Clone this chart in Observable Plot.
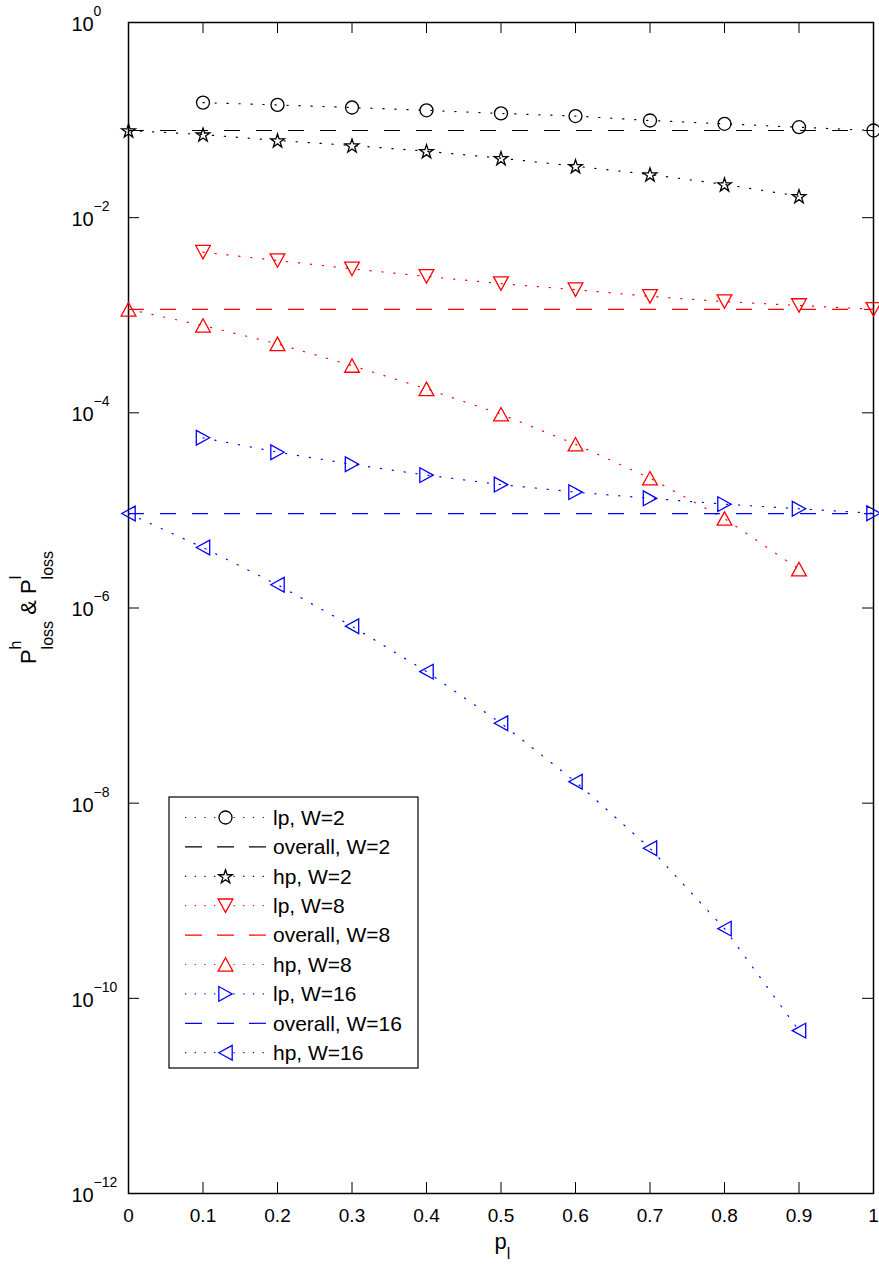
<!DOCTYPE html>
<html><head><meta charset="utf-8">
<script src="https://cdn.jsdelivr.net/npm/d3@7"></script>
<script src="https://cdn.jsdelivr.net/npm/@observablehq/plot@0.6"></script>
<style>body{margin:0;background:#fff} #chart svg{display:block}</style>
</head><body><div id="chart"></div><script>
// ---------- data ----------
const pl = [0, 0.1, 0.2, 0.3, 0.4, 0.5, 0.6, 0.7, 0.8, 0.9, 1];

const lpW2      = [null, 0.151, 0.143, 0.1345, 0.126, 0.117, 0.110, 0.099, 0.0916, 0.0845, 0.0782];
const overallW2 = [0.0782, 0.0782, 0.0782, 0.0782, 0.0782, 0.0782, 0.0782, 0.0782, 0.0782, 0.0782, 0.0782];
const hpW2      = [0.0782, 0.0711, 0.0618, 0.0549, 0.0480, 0.0407, 0.0337, 0.0277, 0.0219, 0.0166, null];

const lpW8      = [null, 0.00443, 0.00364, 0.00299, 0.00250, 0.00211, 0.00183, 0.00156, 0.00138, 0.00126, 0.00115];
const overallW8 = [0.00115, 0.00115, 0.00115, 0.00115, 0.00115, 0.00115, 0.00115, 0.00115, 0.00115, 0.00115, 0.00115];
const hpW8      = [0.00115, 7.85e-4, 5.09e-4, 3.05e-4, 1.76e-4, 9.68e-5, 4.77e-5, 2.14e-5, 8.26e-6, 2.50e-6, null];

const lpW16      = [null, 5.55e-5, 3.95e-5, 2.97e-5, 2.30e-5, 1.84e-5, 1.54e-5, 1.33e-5, 1.16e-5, 1.04e-5, 9.36e-6];
const overallW16 = [9.29e-6, 9.29e-6, 9.29e-6, 9.29e-6, 9.29e-6, 9.29e-6, 9.29e-6, 9.29e-6, 9.29e-6, 9.29e-6, 9.29e-6];
const hpW16      = [9.29e-6, 4.17e-6, 1.73e-6, 6.51e-7, 2.23e-7, 6.59e-8, 1.66e-8, 3.45e-9, 5.18e-10, 4.67e-11, null];

const seriesNames   = ["lp, W=2", "overall, W=2", "hp, W=2", "lp, W=8", "overall, W=8", "hp, W=8", "lp, W=16", "overall, W=16", "hp, W=16"];
const seriesValues  = [lpW2, overallW2, hpW2, lpW8, overallW8, hpW8, lpW16, overallW16, hpW16];
const seriesColors  = ["black", "black", "black", "#ff0000", "#ff0000", "#ff0000", "#0000ff", "#0000ff", "#0000ff"];
const seriesStyles  = ["dotted", "dashed", "dotted", "dotted", "dashed", "dotted", "dotted", "dashed", "dotted"];
const seriesMarkers = ["circle", null, "star", "down", null, "up", "right", null, "left"];

const xTicks = [0, 0.1, 0.2, 0.3, 0.4, 0.5, 0.6, 0.7, 0.8, 0.9, 1];
const xTickLabels = ["0", "0.1", "0.2", "0.3", "0.4", "0.5", "0.6", "0.7", "0.8", "0.9", "1"];
const yTicks = [1, 1e-2, 1e-4, 1e-6, 1e-8, 1e-10, 1e-12];
const yTickExponents = ["0", "\u22122", "\u22124", "\u22126", "\u22128", "\u221210", "\u221212"];

// ---------- marker symbols (MATLAB-like, centred on bounding box) ----------
const rad = s => Math.sqrt(s / Math.PI);
const symbols = {
  circle: {draw(c, s) { const r = rad(s); c.moveTo(r, 0); c.arc(0, 0, r, 0, 2 * Math.PI); c.closePath(); }},
  star: {draw(c, s) {
    const R = rad(s), ri = R * 0.382;
    for (let k = 0; k < 10; k++) {
      const a = -Math.PI / 2 + k * Math.PI / 5, rr = k % 2 ? ri : R;
      const px = rr * Math.cos(a), py = rr * Math.sin(a) + R * 0.095;
      k ? c.lineTo(px, py) : c.moveTo(px, py);
    }
    c.closePath();
  }},
  up:    {draw(c, s) { const r = rad(s); c.moveTo(0, -r); c.lineTo(1.1 * r, r); c.lineTo(-1.1 * r, r); c.closePath(); }},
  down:  {draw(c, s) { const r = rad(s); c.moveTo(0, r); c.lineTo(1.1 * r, -r); c.lineTo(-1.1 * r, -r); c.closePath(); }},
  right: {draw(c, s) { const r = rad(s); c.moveTo(r, 0); c.lineTo(-r, 1.1 * r); c.lineTo(-r, -1.1 * r); c.closePath(); }},
  left:  {draw(c, s) { const r = rad(s); c.moveTo(-r, 0); c.lineTo(r, 1.1 * r); c.lineTo(r, -1.1 * r); c.closePath(); }}
};
const markerR = {circle: 6.5, star: 7.2, up: 6.7, down: 6.7, right: 6.7, left: 6.7};
const dashFor = st => st === "dotted" ? "1.2,10.8" : "15,17";

// ---------- layout ----------
const W = 879, H = 1270, mL = 128, mR = 6, mT = 22, mB = 77;
const plotW = W - mL - mR, plotH = H - mT - mB;
const FONT = "'Liberation Sans', Arial, Helvetica, sans-serif";

const marks = [];
// ticks (inward, on all four sides)
marks.push(Plot.tickX(xTicks, {x: d => d, insetTop: plotH - 11, stroke: "black", strokeWidth: 1}));
marks.push(Plot.tickX(xTicks, {x: d => d, insetBottom: plotH - 11, stroke: "black", strokeWidth: 1}));
marks.push(Plot.tickY(yTicks, {y: d => d, insetRight: plotW - 11, stroke: "black", strokeWidth: 1}));
marks.push(Plot.tickY(yTicks, {y: d => d, insetLeft: plotW - 11, stroke: "black", strokeWidth: 1}));
marks.push(Plot.frame({stroke: "black", strokeWidth: 1.5}));

// tick labels
marks.push(Plot.text(xTicks, {x: d => d, frameAnchor: "bottom", text: xTickLabels, lineAnchor: "top", dy: 15, fontSize: 19, fill: "black"}));
marks.push(Plot.text(yTicks, {y: d => d, frameAnchor: "left", text: () => "10", textAnchor: "start", dx: -57, dy: 2, fontSize: 20, fill: "black"}));
marks.push(Plot.text(yTicks, {y: d => d, frameAnchor: "left", text: yTickExponents, textAnchor: "start", dx: -35, dy: -11, fontSize: 14, fill: "black"}));

// series
seriesValues.forEach((vals, i) => {
  const rows = pl.map((p, j) => ({p, v: vals[j]})).filter(d => d.v != null);
  marks.push(Plot.line(rows, {x: "p", y: "v", stroke: seriesColors[i], strokeWidth: 1.2, strokeDasharray: dashFor(seriesStyles[i])}));
  const m = seriesMarkers[i];
  if (m) marks.push(Plot.dot(rows, {x: "p", y: "v", symbol: symbols[m], r: markerR[m], stroke: seriesColors[i], fill: "none", strokeWidth: 1.3}));
});

const chart = Plot.plot({
  width: W, height: H,
  marginLeft: mL, marginRight: mR, marginTop: mT, marginBottom: mB,
  x: {domain: [0, 1], axis: null},
  y: {type: "log", domain: [1e-12, 1], axis: null},
  style: {fontFamily: FONT, background: "white", color: "black"},
  marks
});

// ---------- axis titles with sub/superscripts ----------
const svg = d3.select(chart);
const yl = svg.append("text")
  .attr("transform", `translate(36,${mT + plotH / 2}) rotate(-90)`)
  .attr("text-anchor", "middle").attr("font-family", FONT).attr("font-size", 22).attr("fill", "black");
yl.append("tspan").text("P");
yl.append("tspan").attr("font-size", 16).attr("dy", -15).text("h");
yl.append("tspan").attr("font-size", 16).attr("dx", -8.9).attr("dy", 32).text("loss");
yl.append("tspan").attr("dy", -17).text(" & P");
yl.append("tspan").attr("font-size", 16).attr("dy", -15).text("l");
yl.append("tspan").attr("font-size", 16).attr("dx", -3.6).attr("dy", 32).text("loss");

const xl = svg.append("text")
  .attr("x", mL + plotW / 2 + 2).attr("y", 1249)
  .attr("text-anchor", "middle").attr("font-family", FONT).attr("font-size", 22).attr("fill", "black");
xl.append("tspan").text("p");
xl.append("tspan").attr("font-size", 16).attr("dy", 10).text("l");

// ---------- legend ----------
const lg = svg.append("g").attr("font-family", FONT).attr("text-anchor", "start");
const lgX = 169, lgY = 797, lgW = 249, lgH = 271, row0 = 817.5, rowStep = 29.4;
lg.append("rect").attr("x", lgX).attr("y", lgY).attr("width", lgW).attr("height", lgH)
  .attr("fill", "white").attr("stroke", "black").attr("stroke-width", 1.2);
seriesNames.forEach((name, i) => {
  const cy = row0 + i * rowStep;
  const dotted = seriesStyles[i] === "dotted";
  lg.append("line").attr("x1", 185).attr("x2", 266).attr("y1", cy).attr("y2", cy)
    .attr("stroke", seriesColors[i]).attr("stroke-width", 1.2)
    .attr("stroke-dasharray", dotted ? "1.2,8.5" : "17,15");
  const m = seriesMarkers[i];
  if (m) {
    const p = d3.path();
    symbols[m].draw(p, Math.PI * markerR[m] * markerR[m]);
    lg.append("path").attr("d", p.toString()).attr("transform", `translate(225.5,${cy})`)
      .attr("fill", "white").attr("stroke", seriesColors[i]).attr("stroke-width", 1.3);
  }
  lg.append("text").attr("x", 273).attr("y", cy).attr("dy", "0.35em").attr("text-anchor", "start")
    .attr("font-size", 21).attr("fill", "black").text(name);
});

document.getElementById("chart").appendChild(chart);
</script></body></html>
